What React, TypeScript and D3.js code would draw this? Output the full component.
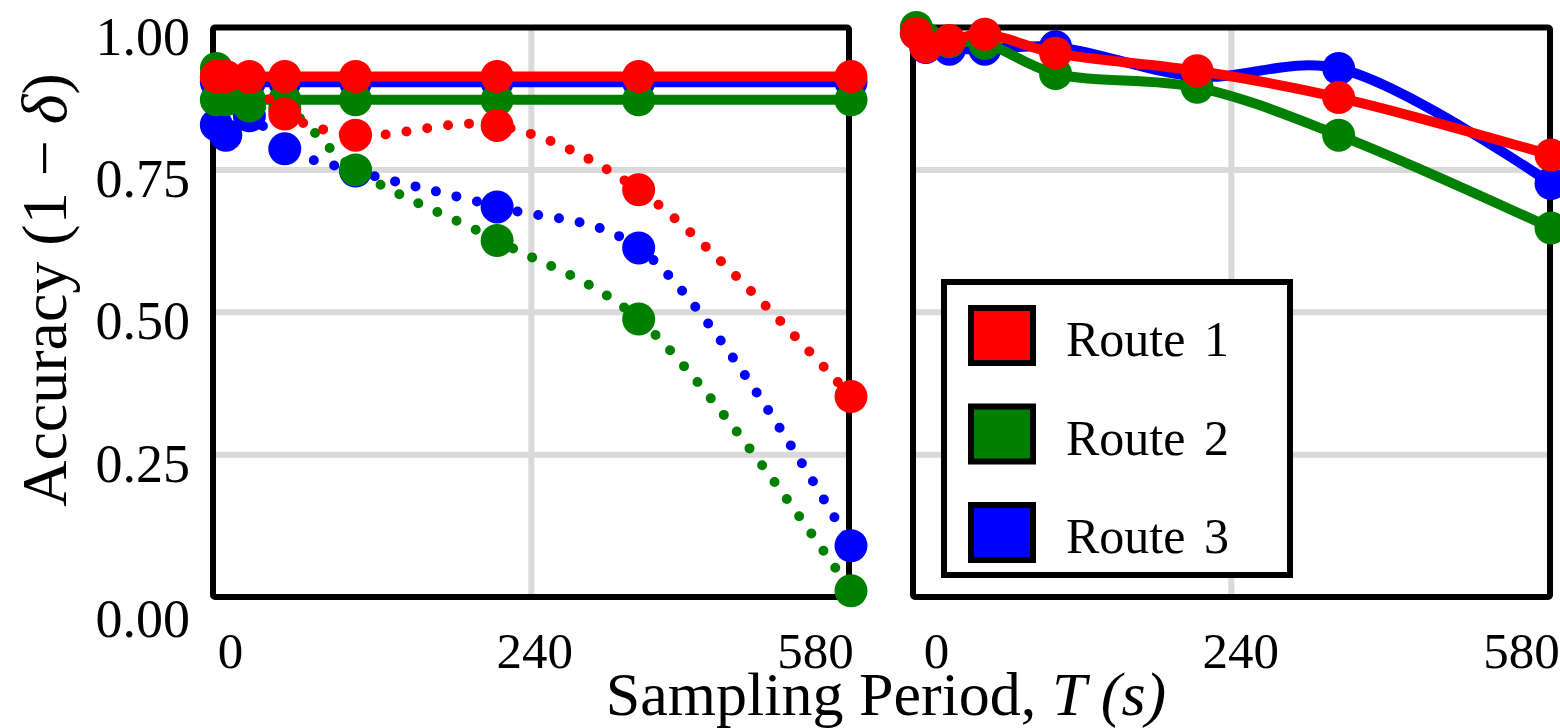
import React, { useEffect, useRef } from "react";
import * as d3 from "d3";

// sampling periods (s) shared by both panels
const periods = [1, 5, 15, 30, 60, 120, 180, 270];

// left panel: flat (solid) and degrading (dotted) runs
const route1Solid = [0.914, 0.914, 0.914, 0.914, 0.914, 0.914, 0.914, 0.914];
const route2Solid = [0.873, 0.873, 0.873, 0.873, 0.873, 0.873, 0.873, 0.873];
const route3Solid = [0.904, 0.904, 0.904, 0.904, 0.904, 0.904, 0.904, 0.904];
const route1Dotted = [0.914, 0.914, 0.912, 0.848, 0.811, 0.828, 0.715, 0.352];
const route2Dotted = [0.928, 0.9, 0.862, 0.858, 0.75, 0.626, 0.488, 0.011];
const route3Dotted = [0.829, 0.811, 0.845, 0.787, 0.748, 0.685, 0.613, 0.09];

// right panel
const route1Right = [0.99, 0.966, 0.977, 0.988, 0.955, 0.924, 0.877, 0.776];
const route2Right = [1.0, 0.98, 0.975, 0.972, 0.919, 0.895, 0.811, 0.648];
const route3Right = [0.99, 0.965, 0.962, 0.962, 0.966, 0.914, 0.928, 0.726];

const routeNames = ["Route 1", "Route 2", "Route 3"];
const routeColors = ["#ff0000", "#008000", "#0000ff"];

const yTicks = [0, 0.25, 0.5, 0.75, 1];
const xTickLabels = ["0", "240", "580"];
const xTickLabelPos = [7, 136, 255];
const xGrid = [134.5];

const FONT = "'Liberation Serif', 'Times New Roman', serif";

export default function App() {
  const ref = useRef<SVGSVGElement>(null);

  useEffect(() => {
    const svg = d3.select(ref.current);
    svg.selectAll("*").remove();

    const y = d3.scaleLinear().domain([0, 1]).range([597, 27.5]);
    const panelOffsets = [0, 700];

    panelOffsets.forEach((off, pi) => {
      const x = d3.scaleLinear().domain([0, 270]).range([214 + off, 851 + off]);
      const left = 213 + off;
      const right = 849 + off + (pi === 1 ? 1 : 0);
      const g = svg.append("g");

      // grid
      g.selectAll(".hg")
        .data([0.25, 0.5, 0.75])
        .enter()
        .append("line")
        .attr("x1", left)
        .attr("x2", right)
        .attr("y1", (d) => y(d))
        .attr("y2", (d) => y(d))
        .attr("stroke", "#d9d9d9")
        .attr("stroke-width", 6);
      g.selectAll(".vg")
        .data(xGrid)
        .enter()
        .append("line")
        .attr("x1", (d) => x(d))
        .attr("x2", (d) => x(d))
        .attr("y1", y(1))
        .attr("y2", y(0))
        .attr("stroke", "#d9d9d9")
        .attr("stroke-width", 6);

      // frame
      g.append("rect")
        .attr("x", left)
        .attr("y", y(1))
        .attr("width", right - left)
        .attr("height", y(0) - y(1))
        .attr("rx", 2)
        .attr("fill", "none")
        .attr("stroke", "#000")
        .attr("stroke-width", 6);

      // x tick labels
      g.selectAll(".xt")
        .data(xTickLabels)
        .enter()
        .append("text")
        .attr("x", (d, i) => x(xTickLabelPos[i]) + (pi === 1 ? 6 : 0))
        .attr("y", 668)
        .attr("text-anchor", "middle")
        .attr("font-family", FONT)
        .attr("font-size", 51)
        .text((d) => d);

      const series =
        pi === 0
          ? [
              { v: route3Solid, c: 2, dot: false },
              { v: route3Dotted, c: 2, dot: true },
              { v: route2Solid, c: 1, dot: false },
              { v: route2Dotted, c: 1, dot: true },
              { v: route1Solid, c: 0, dot: false },
              { v: route1Dotted, c: 0, dot: true }
            ]
          : [
              { v: route3Right, c: 2, dot: false },
              { v: route2Right, c: 1, dot: false },
              { v: route1Right, c: 0, dot: false }
            ];

      const line = d3
        .line<number>()
        .x((d, i) => x(periods[i]))
        .y((d) => y(d))
        .curve(d3.curveCatmullRom.alpha(0.5));

      series.forEach((s) => {
        g.append("path")
          .attr("d", line(s.v))
          .attr("fill", "none")
          .attr("stroke", routeColors[s.c])
          .attr("stroke-width", 10)
          .attr("stroke-linecap", "round")
          .attr("stroke-dasharray", s.dot ? "0 21" : null);
        g.selectAll(null)
          .data(s.v)
          .enter()
          .append("circle")
          .attr("cx", (d, i) => x(periods[i]))
          .attr("cy", (d) => y(d))
          .attr("r", 16.5)
          .attr("fill", routeColors[s.c]);
      });
    });

    // y tick labels
    svg
      .selectAll(".yt")
      .data(yTicks)
      .enter()
      .append("text")
      .attr("x", 190)
      .attr("y", (d) => y(d) + 27 + (d === 0 ? 13 : 0))
      .attr("text-anchor", "end")
      .attr("font-family", FONT)
      .attr("font-size", 54)
      .text((d) => d3.format(".2f")(d));

    // axis titles
    const yt = svg
      .append("text")
      .attr("transform", "translate(66,290) rotate(-90)")
      .attr("text-anchor", "middle")
      .attr("font-family", FONT)
      .attr("font-size", 64);
    yt.append("tspan").text("Accuracy (1 \u2212 ");
    yt.append("tspan").attr("font-style", "italic").text("\u03b4");
    yt.append("tspan").text(")");

    const xt = svg
      .append("text")
      .attr("x", 886)
      .attr("y", 715)
      .attr("text-anchor", "middle")
      .attr("font-family", FONT)
      .attr("font-size", 62);
    xt.append("tspan").text("Sampling Period, ");
    xt.append("tspan").attr("font-style", "italic").text("T (s)");

    // legend
    const lg = svg.append("g");
    lg.append("rect")
      .attr("x", 944)
      .attr("y", 282)
      .attr("width", 346)
      .attr("height", 293)
      .attr("fill", "#fff")
      .attr("stroke", "#000")
      .attr("stroke-width", 6);
    const rowY = d3.scalePoint<string>().domain(routeNames).range([336, 533]);
    routeNames.forEach((name, i) => {
      lg.append("rect")
        .attr("x", 971)
        .attr("y", (rowY(name) as number) - 28)
        .attr("width", 62)
        .attr("height", 55)
        .attr("fill", routeColors[i])
        .attr("stroke", "#000")
        .attr("stroke-width", 6);
      lg.append("text")
        .attr("x", 1066)
        .attr("y", (rowY(name) as number) + 20)
        .attr("font-family", FONT)
        .attr("font-size", 50)
        .attr("word-spacing", 6)
        .text(name);
    });
  }, []);

  return (
    <svg
      ref={ref}
      width={1560}
      height={728}
      style={{ position: "absolute", left: 0, top: 0, background: "#fff" }}
    />
  );
}
